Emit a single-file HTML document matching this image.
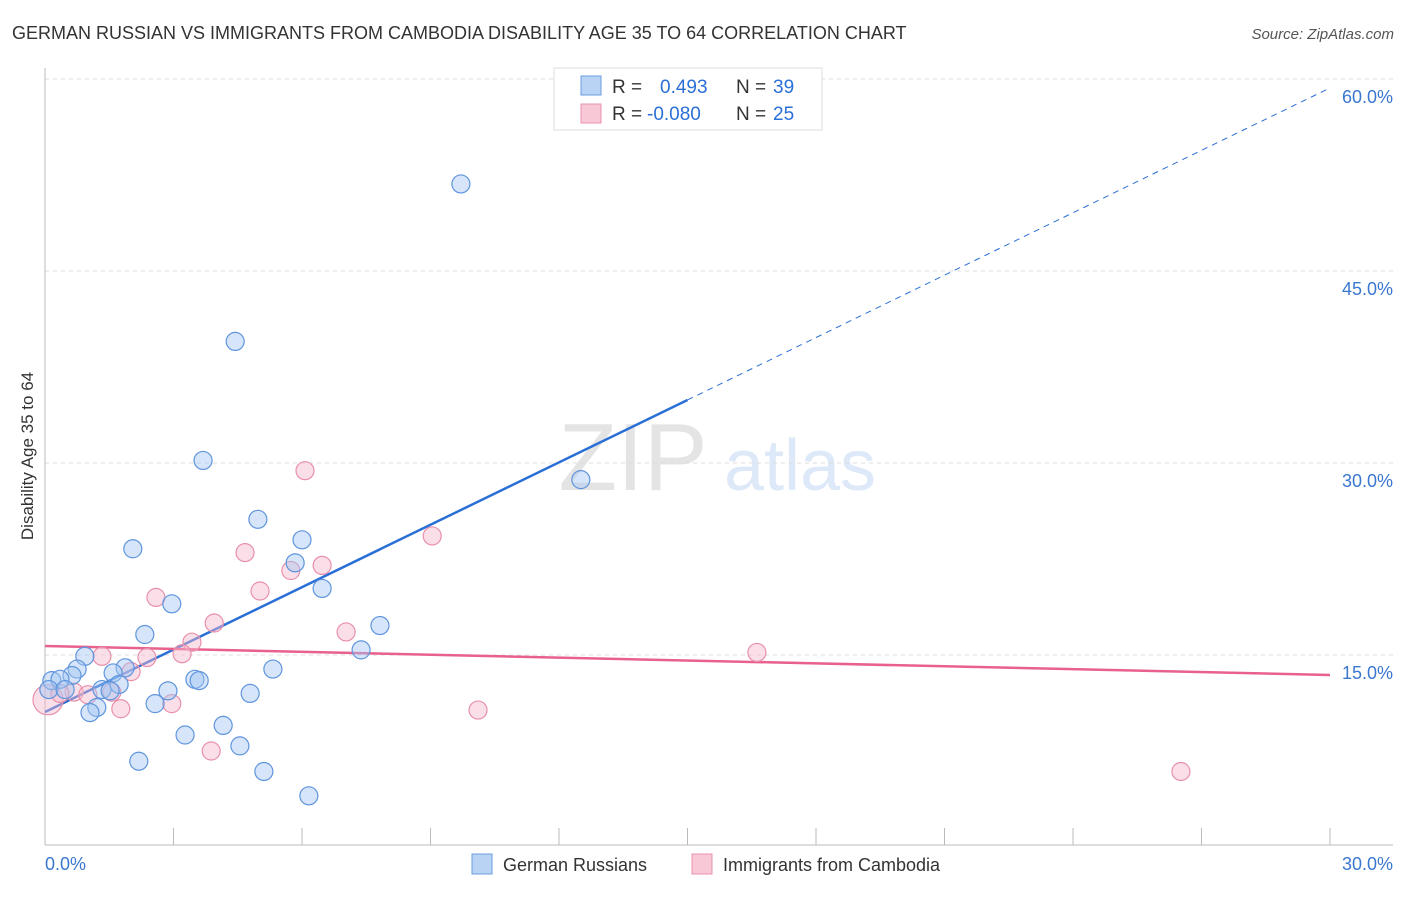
<!DOCTYPE html>
<html><head><meta charset="utf-8"><style>
body{margin:0;background:#fff;font-family:"Liberation Sans",sans-serif;}
svg text{font-family:"Liberation Sans",sans-serif;}
</style></head><body>
<svg id="chart" width="1406" height="892" viewBox="0 0 1406 892">
<text x="12" y="39" font-size="18" fill="#333">GERMAN RUSSIAN VS IMMIGRANTS FROM CAMBODIA DISABILITY AGE 35 TO 64 CORRELATION CHART</text>
<text x="1394" y="39" font-size="15" fill="#555" text-anchor="end" font-style="italic">Source: ZipAtlas.com</text>
<text transform="translate(33,456) rotate(-90)" font-size="17" fill="#333" text-anchor="middle">Disability Age 35 to 64</text>
<g opacity="0.22">
<text x="633" y="490" font-size="96" fill="#888" text-anchor="middle" font-family="Liberation Serif">ZIP</text>
<text x="800" y="490" font-size="72" fill="#6a9ee0" text-anchor="middle">atlas</text>
</g>
<g id="grid"></g><g id="axes"></g><g id="lines"></g><g id="pts"></g>
<g>
<rect x="554" y="68" width="268" height="62" fill="#fff" stroke="#ddd"/>
<rect x="581" y="76" width="20" height="19" fill="#b9d3f5" stroke="#6a9ee0"/>
<rect x="581" y="104" width="20" height="19" fill="#f9c8d6" stroke="#e890ab"/>
<text x="612" y="93" font-size="19" fill="#333">R =</text><text x="660" y="93" font-size="19" fill="#2a6fd6">0.493</text>
<text x="736" y="93" font-size="19" fill="#333">N =</text><text x="773" y="93" font-size="19" fill="#2a6fd6">39</text>
<text x="612" y="120" font-size="19" fill="#333">R =</text><text x="647" y="120" font-size="19" fill="#2a6fd6">-0.080</text>
<text x="736" y="120" font-size="19" fill="#333">N =</text><text x="773" y="120" font-size="19" fill="#2a6fd6">25</text>
</g>
<g>
<rect x="472" y="854" width="20" height="20" fill="#b9d3f5" stroke="#6a9ee0"/>
<text x="503" y="871" font-size="18" fill="#333">German Russians</text>
<rect x="692" y="854" width="20" height="20" fill="#f9c8d6" stroke="#e890ab"/>
<text x="723" y="871" font-size="18" fill="#333">Immigrants from Cambodia</text>
</g>
</svg>
<script>
const xTicks=[0,30];
const yTicks=[15,30,45,60];
const blueX=[9.71,4.44,3.69,12.51,4.97,2.05,6.0,5.84,6.47,2.96,7.82,2.33,7.38,0.93,0.75,1.87,1.59,5.32,0.63,0.16,0.35,1.73,2.87,1.33,1.52,3.50,3.60,4.79,2.57,1.21,1.05,4.16,3.27,4.55,2.19,5.11,6.16,0.09,0.47];
const blueY=[51.8,39.5,30.2,28.7,25.6,23.3,24.0,22.2,20.2,19.0,17.3,16.6,15.4,14.9,13.9,14.0,13.6,13.9,13.4,13.0,13.1,12.7,12.2,12.3,12.2,13.1,13.0,12.0,11.2,10.9,10.5,9.5,8.75,7.9,6.7,5.9,4.0,12.3,12.3];
const pinkX=[6.07,9.04,4.67,6.47,5.74,5.02,2.59,3.95,7.03,3.43,3.20,2.38,1.33,16.62,2.01,1.56,0.68,1.0,2.96,1.77,10.11,3.88,26.52,0.07,0.35];
const pinkY=[29.4,24.3,23.0,22.0,21.6,20.0,19.5,17.5,16.8,16.0,15.1,14.8,14.9,15.2,13.7,12.1,12.1,11.9,11.2,10.8,10.7,7.5,5.9,11.5,12.0];
const blueTrend=[10.55,59.3];
const blueSolidEnd=15;
const pinkTrend=[15.7,13.44];
const NS="http://www.w3.org/2000/svg";
const X=v=>45+v/30*1285, Y=v=>847-v/15*192;
function mk(p,t,a){const e=document.createElementNS(NS,t);for(const k in a)e.setAttribute(k,a[k]);document.getElementById(p).appendChild(e);return e;}
yTicks.forEach(t=>{
 const l=mk('grid','line',{x1:45,x2:1393,y1:Y(t),y2:Y(t),stroke:'#ddd','stroke-dasharray':'4,4'});
 
 
 const tx=mk('grid','text',{x:1393,y:Y(t)+24,'font-size':18,fill:'#3a78d0','text-anchor':'end'});
 tx.textContent=t.toFixed(1)+'%';
 
 
});
const ax=mk('axes','line',{x1:45,x2:45,y1:68,y2:845,stroke:'#bbb'});


const bx=mk('axes','line',{x1:45,x2:1393,y1:845,y2:845,stroke:'#bbb'});


for(let i=0;i<=10;i++){const t=mk('axes','line',{x1:X(i*3),x2:X(i*3),y1:828,y2:845,stroke:'#bbb'});
 
 }
xTicks.forEach((t,i)=>{const tx=mk('axes','text',{x:i?1393:45,y:870,'font-size':18,fill:'#3a78d0','text-anchor':i?'end':'start'});
 tx.textContent=t.toFixed(1)+'%';
 
 });
const by=x=>blueTrend[0]+(blueTrend[1]-blueTrend[0])*x/30;
let l1=mk('lines','line',{x1:X(0),y1:Y(by(0)),x2:X(blueSolidEnd),y2:Y(by(blueSolidEnd)),stroke:'#2a6fd6','stroke-width':2.5});


let l2=mk('lines','line',{x1:X(blueSolidEnd),y1:Y(by(blueSolidEnd)),x2:X(30),y2:Y(by(30)),stroke:'#2a6fd6','stroke-width':1,'stroke-dasharray':'6,5'});


let l3=mk('lines','line',{x1:X(0),y1:Y(pinkTrend[0]),x2:X(30),y2:Y(pinkTrend[1]),stroke:'#e8608c','stroke-width':2.5});


pinkX.forEach((x,i)=>{const c=mk('pts','circle',{cx:X(x),cy:Y(pinkY[i]),r:i==23?15:9,fill:'rgba(246,184,204,0.45)',stroke:'#e890ab','stroke-width':1.2});
 
 });
blueX.forEach((x,i)=>{const c=mk('pts','circle',{cx:X(x),cy:Y(blueY[i]),r:9,fill:'rgba(165,198,242,0.45)',stroke:'#5f95dd','stroke-width':1.2});
 
 });
</script>
</body></html>
